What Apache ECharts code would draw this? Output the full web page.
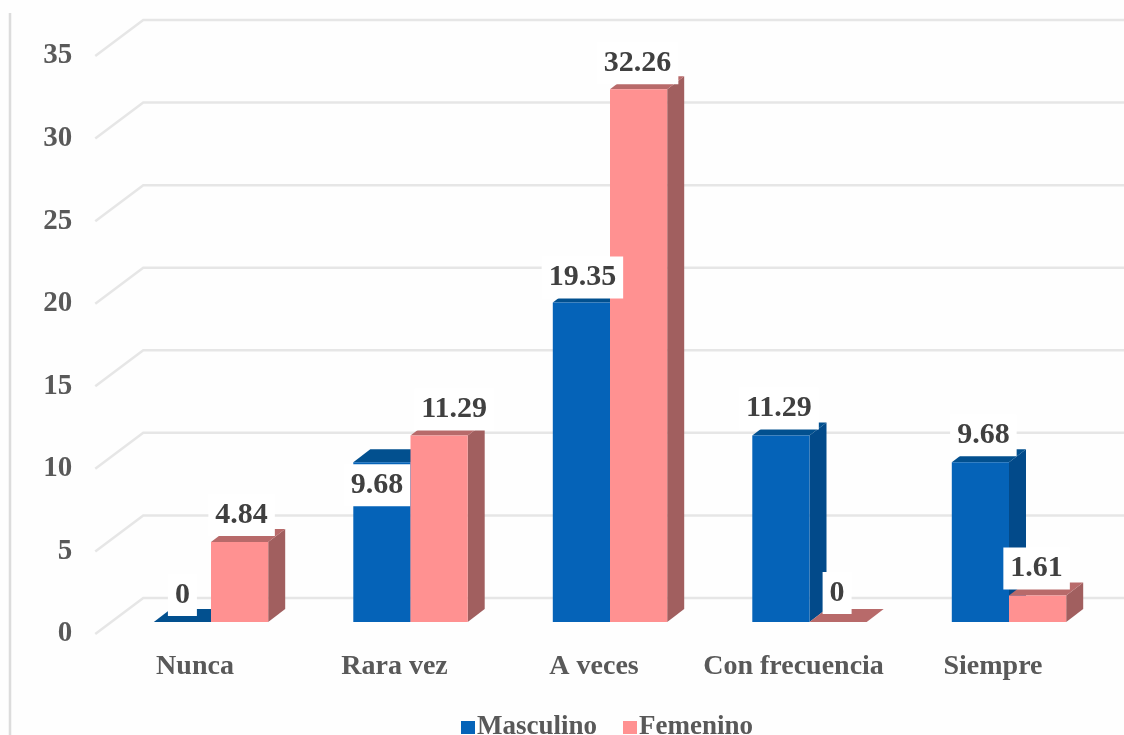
<!DOCTYPE html>
<html><head><meta charset="utf-8">
<style>html,body{margin:0;padding:0;background:#fff;overflow:hidden}#c{width:1124px;height:735px}</style>
<script src="https://cdn.jsdelivr.net/npm/echarts@6/dist/echarts.min.js"></script>
</head><body><div id="c"></div>
<script>
var categories = ["Nunca","Rara vez","A veces","Con frecuencia","Siempre"];
var masculino = [0,9.68,19.35,11.29,9.68];
var femenino = [4.84,11.29,32.26,0,1.61];
var yTicks = [0,5,10,15,20,25,30,35];
// label nudges relative to the default spot above each bar
var mascLabelNudge = [[0,0],[-5,50],[1,2],[-2,0],[3,0]];
var femLabelNudge = [[2,0],[15,1],[-1,1],[-1,-2],[-1,0]];

var WALL = {dx:48, dy:-36};       // floor depth of the 3D box
var FRONT = {dx:16, dy:-12};      // bars stand this far behind the front edge
var DEPTH = {dx:17, dy:-13};      // depth of each bar
var BAR_RATIO = 57.2/199.5;
var FONT = 'bold 30px "Liberation Serif"';

function pts(a){return a.map(function(p){return [p[0],p[1]];});}
function barRenderer(side, cols){
  return function(params, api){
    var i=api.value(0), v=api.value(1);
    var band=api.size([1,0])[0], w=band*BAR_RATIO;
    var base=api.coord([i,0]), top=api.coord([i,v]);
    var xl=base[0]+FRONT.dx+(side<0?-w:0), xr=xl+w;
    var yb=base[1]+FRONT.dy, yt=top[1]+FRONT.dy;
    var d=DEPTH;
    var kids=[];
    kids.push({type:'polygon',shape:{points:pts([[xr,yb],[xr+d.dx,yb+d.dy],[xr+d.dx,yt+d.dy],[xr,yt]])},style:{fill:cols.side}});
    kids.push({type:'polygon',shape:{points:pts([[xl,yt],[xl+d.dx,yt+d.dy],[xr+d.dx,yt+d.dy],[xr,yt]])},style:{fill:cols.top}});
    if(yb-yt>0.5) kids.push({type:'rect',shape:{x:xl,y:yt,width:w,height:yb-yt},style:{fill:cols.front}});
    return {type:'group',children:kids};
  };
}
function labelRenderer(side, nudge){
  return function(params, api){
    var i=api.value(0), v=api.value(1);
    var band=api.size([1,0])[0], w=band*BAR_RATIO;
    var top=api.coord([i,v]);
    var cx=top[0]+FRONT.dx+side*w/2+nudge[i][0];
    var cy=top[1]+FRONT.dy-27+nudge[i][1];
    return {type:'text',style:{text:String(v),x:cx,y:cy,align:'center',verticalAlign:'middle',
      font:FONT,fill:'#404040',backgroundColor:'#fff',padding:[6,7,6,7]}};
  };
}
function gridRenderer(params, api){
  var v=api.value(1);
  var band=api.size([1,0])[0];
  var p=api.coord([0,v]);
  var x0=p[0]-band/2, y0=p[1];
  return {type:'polyline',shape:{points:[[x0,y0],[x0+WALL.dx,y0+WALL.dy],[x0+WALL.dx+band*5,y0+WALL.dy]]},
    style:{stroke:'#e6e6e6',lineWidth:2.5,fill:null}};
}
var enc={x:0,y:1};
function rows(a){return a.map(function(v,i){return [i,v];});}
var blue='#0563b8', pink='#ff9191';
var chart=echarts.init(document.getElementById('c'),null,{renderer:'canvas'});
chart.setOption({
  animation:false,
  backgroundColor:'#fefefe',
  grid:{left:95.25,right:31.25,top:56,bottom:101,containLabel:false},
  legend:{data:['Masculino','Femenino'],left:456,top:709,icon:'rect',itemWidth:14,itemHeight:13,itemGap:26,
    textStyle:{fontFamily:'Liberation Serif',fontWeight:'bold',fontSize:27,color:'#595959',padding:[0,0,0,-3]}},
  xAxis:{type:'category',data:categories,axisLine:{show:false},axisTick:{show:false},splitLine:{show:false},
    axisLabel:{margin:19,interval:0,fontFamily:'Liberation Serif',fontWeight:'bold',fontSize:28,color:'#595959'}},
  yAxis:{type:'value',min:0,max:35,interval:5,axisLine:{show:false},axisTick:{show:false},splitLine:{show:false},
    axisLabel:{margin:23,fontFamily:'Liberation Serif',fontWeight:'bold',fontSize:29,color:'#595959'}},
  graphic:[{type:'line',shape:{x1:10,y1:13,x2:10,y2:735},style:{stroke:'#dcdcdc',lineWidth:2.5},silent:true}],
  series:[
    {type:'custom',name:'grid',z:1,renderItem:gridRenderer,encode:enc,data:yTicks.map(function(v){return [0,v];}),silent:true},
    {type:'custom',name:'Masculino',z:2,renderItem:barRenderer(-1,{front:blue,side:'#024a8a',top:'#02508f'}),encode:enc,data:rows(masculino),itemStyle:{color:blue}},
    {type:'custom',name:'Femenino',z:3,renderItem:barRenderer(1,{front:pink,side:'#a15f5f',top:'#b86a6a'}),encode:enc,data:rows(femenino),itemStyle:{color:pink}},
    {type:'custom',name:'lblM',z:4,renderItem:labelRenderer(-1,mascLabelNudge),encode:enc,data:rows(masculino)},
    {type:'custom',name:'lblF',z:4,renderItem:labelRenderer(1,femLabelNudge),encode:enc,data:rows(femenino)}
  ]
});
</script></body></html>
